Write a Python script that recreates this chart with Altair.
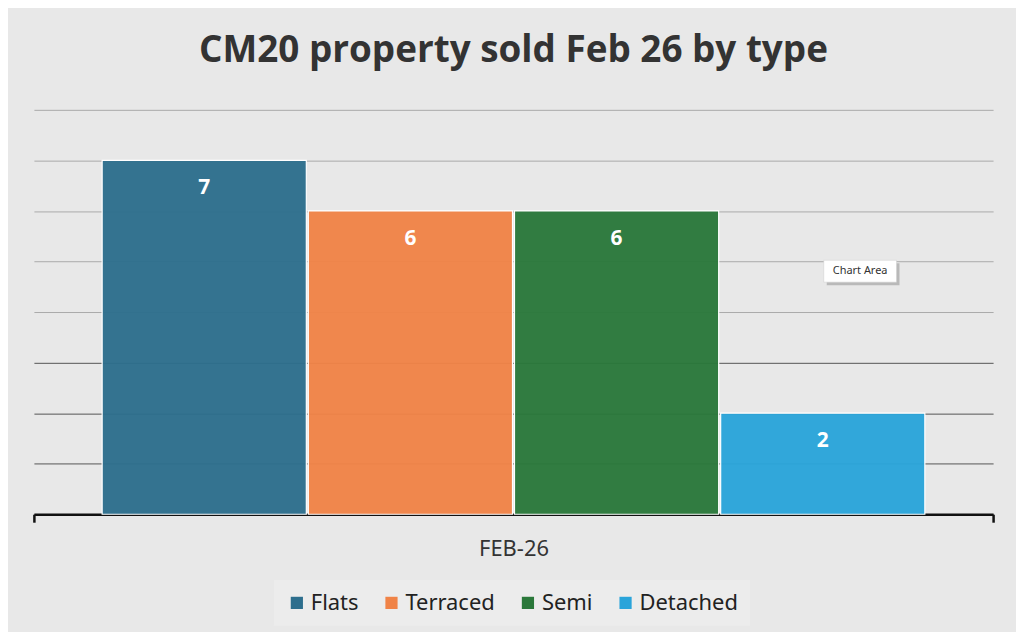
import altair as alt
import pandas as pd

months = ["FEB-26"]
types = ["Flats", "Terraced", "Semi", "Detached"]
values = [7, 6, 6, 2]
colors = ["#2d6e8d", "#f08347", "#2a783a", "#2aa4da"]

df = pd.DataFrame({"month": months * len(types), "type": types, "value": values})

x_enc = alt.X(
    "month:N",
    scale=alt.Scale(paddingInner=0, paddingOuter=0),
    axis=alt.Axis(
        title=None, labelAngle=0, grid=False,
        domainColor="#111111", domainWidth=2.5,
        tickColor="#111111", tickWidth=2.5, tickSize=8, tickBand="extent",
        labelFontSize=22, labelFont="Noto Sans", labelColor="#333333", labelPadding=16,
    ),
)
xo_enc = alt.XOffset("type:N", sort=types, scale=alt.Scale(paddingInner=0.0097, paddingOuter=0.331))
y_enc = alt.Y(
    "value:Q",
    scale=alt.Scale(domain=[0, 8], nice=False),
    axis=alt.Axis(
        title=None, labels=False, ticks=False, domain=False, values=list(range(9)),
        gridWidth=1,
        gridColor={"condition": {"test": "datum.value <= 3", "value": "#555555"}, "value": "#a9a9a9"},
    ),
)

base = alt.Chart(df).encode(x=x_enc, xOffset=xo_enc, y=y_enc)

bars = base.mark_bar(fillOpacity=0.96, stroke="white", strokeWidth=1.2).encode(
    color=alt.Color(
        "type:N", sort=types,
        scale=alt.Scale(domain=types, range=colors),
        legend=alt.Legend(
            title=None, orient="none", direction="horizontal",
            legendX=241, legendY=472,
            symbolType="square", symbolSize=150, symbolStrokeWidth=0,
            labelFontSize=22, labelFont="Noto Sans", labelColor="#222222",
            columnPadding=22, labelOffset=3,
            fillColor="#ececec", padding=12,
        ),
    )
)

labels = base.mark_text(
    color="white", fontSize=21, fontWeight="bold", font="Open Sans", baseline="middle", dy=28
).encode(text=alt.Text("value:Q"))

tip_df = pd.DataFrame({"t": ["Chart Area"]})
tip_shadow = alt.Chart(tip_df).mark_rect(fill="#9a9a9a", opacity=0.6).encode(
    x=alt.value(796), x2=alt.value(869), y=alt.value(154), y2=alt.value(176)
)
tip_box = alt.Chart(tip_df).mark_rect(fill="white", stroke="#cfcfcf", strokeWidth=0.5).encode(
    x=alt.value(793), x2=alt.value(866), y=alt.value(151), y2=alt.value(173)
)
tip_text = alt.Chart(tip_df).mark_text(fontSize=11, font="Noto Sans", color="#333333").encode(
    x=alt.value(829.5), y=alt.value(162), text="t:N"
)

chart = alt.layer(bars, labels, tip_shadow, tip_box, tip_text).properties(
    width=963,
    height=406,
    title=alt.TitleParams(
        "CM20 property sold Feb 26 by type",
        fontSize=37, font="Open Sans", fontWeight="bold", color="#333333",
        anchor="middle", offset=40,
    ),
    padding={"left": 24, "top": 23, "right": 21, "bottom": 5},
).configure(background="#e8e8e8").configure_view(stroke=None)

chart.save("out.html", embed_options={"renderer": "svg", "actions": False})
